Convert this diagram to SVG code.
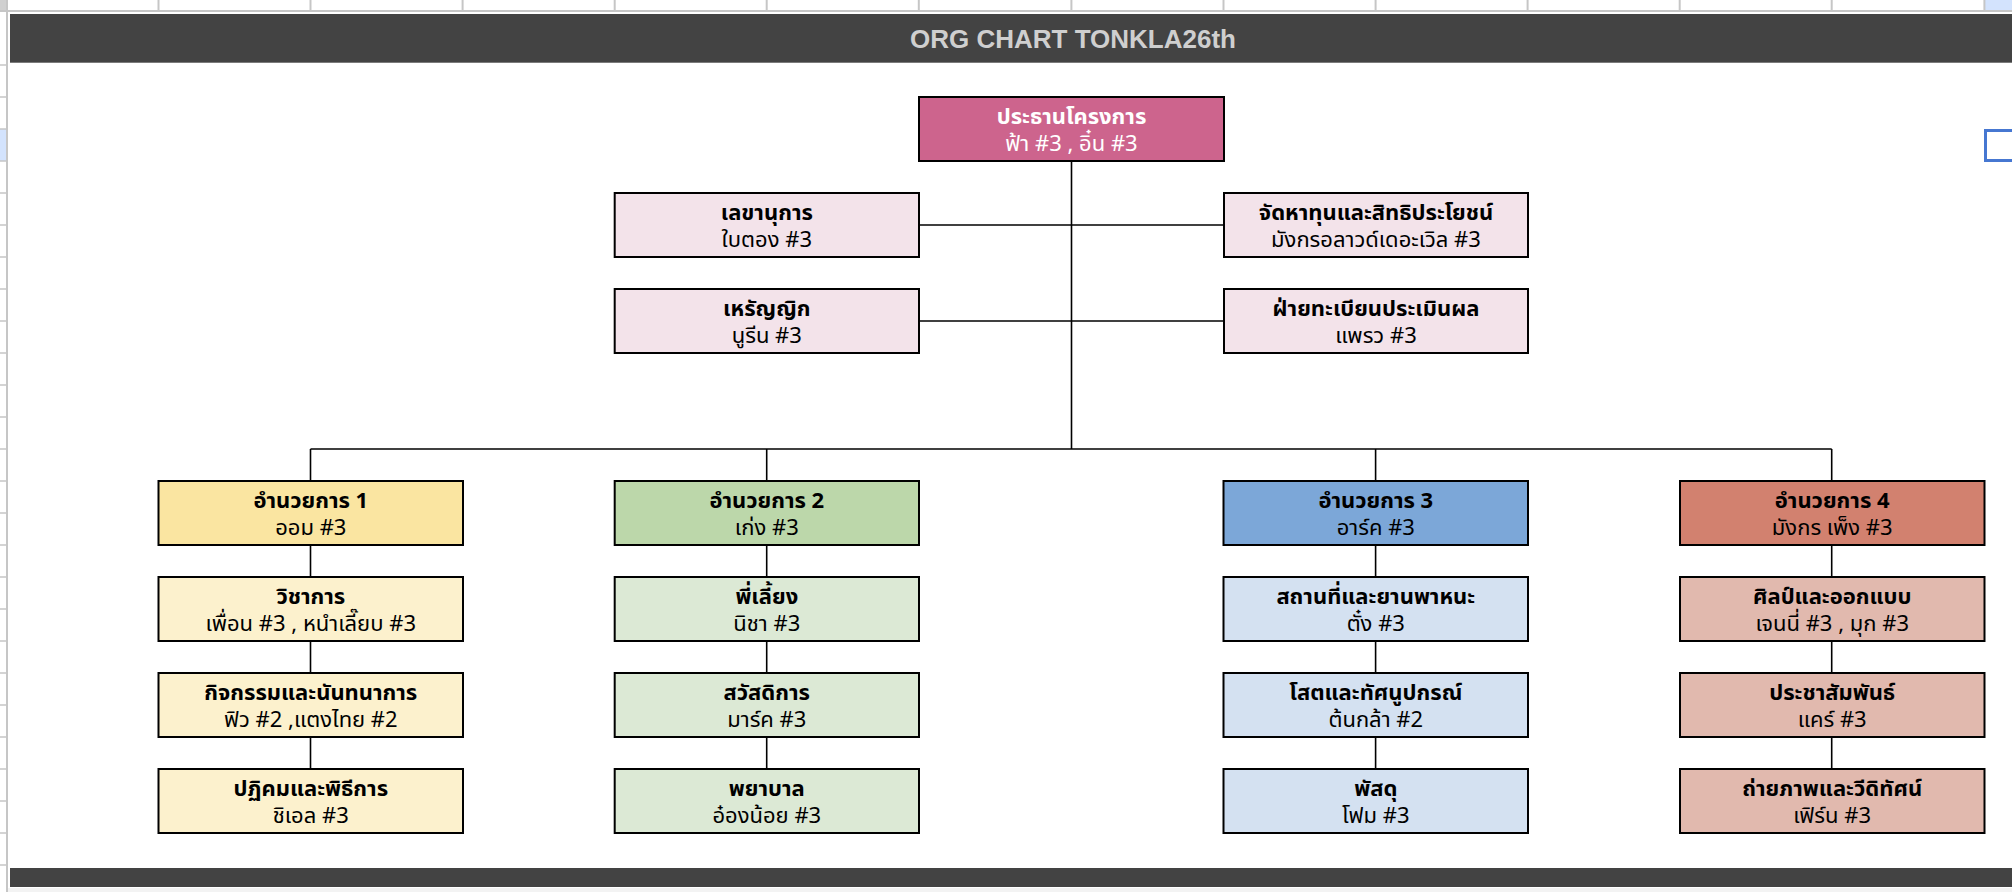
<svg xmlns="http://www.w3.org/2000/svg" width="2012" height="892" viewBox="0 0 2012 892">
<style>
.grid{stroke:#c6c6c6;stroke-width:2;fill:none}
.tick{stroke:#c6c6c6;stroke-width:1.5}
.box{stroke:#000;stroke-width:2}
.con{stroke:#000;stroke-width:1.6;fill:none}
.t{font-family:"Noto Sans Thai","Noto Sans Thai UI","Noto Sans",sans-serif;font-weight:700;font-size:22px;text-anchor:middle;fill:#000}
.s{font-family:"Noto Sans Thai","Noto Sans Thai UI","Noto Sans",sans-serif;font-weight:400;font-size:22px;text-anchor:middle;fill:#000}
.w{fill:#fff}
.chair{fill:#cd648d}
.pk{fill:#f3e3ea}
.y1{fill:#fae5a1}.y2{fill:#fcf1cd}
.g1{fill:#bcd7aa}.g2{fill:#dce9d5}
.b1{fill:#7ca7d8}.b2{fill:#d4e1f1}
.r1{fill:#d2816f}.r2{fill:#e1b9ae}
</style>
<rect x="0" y="0" width="2012" height="892" fill="#fff"/>
<g id="sheet">
<rect x="0" y="0" width="7" height="10" fill="#d0d0d0"/>
<rect x="1985" y="0" width="27" height="10" fill="#d3e3fd"/>
<rect x="0" y="129" width="6" height="32" fill="#d3e3fd"/>
<line class="grid" x1="0" y1="11" x2="2012" y2="11"/>
<line class="grid" x1="7" y1="0" x2="7" y2="892"/>
<g class="grid">
<line x1="158.5" y1="0" x2="158.5" y2="10"/><line x1="310.5" y1="0" x2="310.5" y2="10"/><line x1="462.6" y1="0" x2="462.6" y2="10"/><line x1="614.7" y1="0" x2="614.7" y2="10"/><line x1="766.7" y1="0" x2="766.7" y2="10"/><line x1="918.8" y1="0" x2="918.8" y2="10"/><line x1="1071.4" y1="0" x2="1071.4" y2="10"/><line x1="1223.5" y1="0" x2="1223.5" y2="10"/><line x1="1375.6" y1="0" x2="1375.6" y2="10"/><line x1="1527.6" y1="0" x2="1527.6" y2="10"/><line x1="1679.7" y1="0" x2="1679.7" y2="10"/><line x1="1831.7" y1="0" x2="1831.7" y2="10"/><line x1="1984.4" y1="0" x2="1984.4" y2="10"/>
</g>
<g class="tick">
<line x1="0" y1="65" x2="7" y2="65"/><line x1="0" y1="97" x2="7" y2="97"/><line x1="0" y1="129" x2="7" y2="129"/><line x1="0" y1="161" x2="7" y2="161"/><line x1="0" y1="193" x2="7" y2="193"/><line x1="0" y1="225" x2="7" y2="225"/><line x1="0" y1="257" x2="7" y2="257"/><line x1="0" y1="289" x2="7" y2="289"/><line x1="0" y1="321" x2="7" y2="321"/><line x1="0" y1="353" x2="7" y2="353"/><line x1="0" y1="385" x2="7" y2="385"/><line x1="0" y1="417" x2="7" y2="417"/><line x1="0" y1="449" x2="7" y2="449"/><line x1="0" y1="481" x2="7" y2="481"/><line x1="0" y1="513" x2="7" y2="513"/><line x1="0" y1="545" x2="7" y2="545"/><line x1="0" y1="577" x2="7" y2="577"/><line x1="0" y1="609" x2="7" y2="609"/><line x1="0" y1="641" x2="7" y2="641"/><line x1="0" y1="673" x2="7" y2="673"/><line x1="0" y1="705" x2="7" y2="705"/><line x1="0" y1="737" x2="7" y2="737"/><line x1="0" y1="769" x2="7" y2="769"/><line x1="0" y1="801" x2="7" y2="801"/><line x1="0" y1="833" x2="7" y2="833"/><line x1="0" y1="865" x2="7" y2="865"/>
</g>
<rect x="10" y="14" width="2002" height="48.7" fill="#434343"/>
<text x="1073" y="48" font-family="'Liberation Sans',Arial,sans-serif" font-weight="700" font-size="26" text-anchor="middle" fill="#cfcfcf">ORG CHART TONKLA26th</text>
<rect x="10" y="868" width="2002" height="19" fill="#434343"/>
<rect x="8" y="888" width="2004" height="4" fill="#f3f3f3"/>
<rect x="1985.5" y="130.5" width="40" height="30" fill="none" stroke="#4677d1" stroke-width="3"/>
</g>
<g id="connectors" class="con">
<line x1="1071.5" y1="161" x2="1071.5" y2="449"/>
<line x1="919" y1="225" x2="1224" y2="225"/>
<line x1="919" y1="321" x2="1224" y2="321"/>
<line x1="310.5" y1="449" x2="1831.7" y2="449"/>
<line x1="310.5" y1="449" x2="310.5" y2="481"/>
<line x1="766.7" y1="449" x2="766.7" y2="481"/>
<line x1="1375.6" y1="449" x2="1375.6" y2="481"/>
<line x1="1831.7" y1="449" x2="1831.7" y2="481"/>
<line x1="310.5" y1="545" x2="310.5" y2="577"/><line x1="310.5" y1="641" x2="310.5" y2="673"/><line x1="310.5" y1="737" x2="310.5" y2="769"/>
<line x1="766.7" y1="545" x2="766.7" y2="577"/><line x1="766.7" y1="641" x2="766.7" y2="673"/><line x1="766.7" y1="737" x2="766.7" y2="769"/>
<line x1="1375.6" y1="545" x2="1375.6" y2="577"/><line x1="1375.6" y1="641" x2="1375.6" y2="673"/><line x1="1375.6" y1="737" x2="1375.6" y2="769"/>
<line x1="1831.7" y1="545" x2="1831.7" y2="577"/><line x1="1831.7" y1="641" x2="1831.7" y2="673"/><line x1="1831.7" y1="737" x2="1831.7" y2="769"/>
</g>
<g id="chair"><rect class="box chair" x="919" y="97" width="305" height="64"/><text class="t w" x="1071.5" y="124">ประธานโครงการ</text><text class="s w" x="1071.5" y="151">ฟ้า #3 , อิ๋น #3</text></g>
<g id="secretary"><rect class="box pk" x="614.7" y="193" width="304.3" height="64"/><text class="t" x="766.8" y="220">เลขานุการ</text><text class="s" x="766.8" y="247">ใบตอง #3</text></g>
<g id="treasurer"><rect class="box pk" x="614.7" y="289" width="304.3" height="64"/><text class="t" x="766.8" y="316">เหรัญญิก</text><text class="s" x="766.8" y="343">นูรีน #3</text></g>
<g id="funding"><rect class="box pk" x="1224" y="193" width="304" height="64"/><text class="t" x="1376" y="220">จัดหาทุนและสิทธิประโยชน์</text><text class="s" x="1376" y="247">มังกรอลาวด์เดอะเวิล #3</text></g>
<g id="registry"><rect class="box pk" x="1224" y="289" width="304" height="64"/><text class="t" x="1376" y="316">ฝ่ายทะเบียนประเมินผล</text><text class="s" x="1376" y="343">แพรว #3</text></g>

<g id="div1"><rect class="box y1" x="158.5" y="481" width="304.5" height="64"/><text class="t" x="310.8" y="508">อำนวยการ 1</text><text class="s" x="310.8" y="535">ออม #3</text></g>
<g id="academic"><rect class="box y2" x="158.5" y="577" width="304.5" height="64"/><text class="t" x="310.8" y="604">วิชาการ</text><text class="s" x="310.8" y="631">เพื่อน #3 , หนำเลี๊ยบ #3</text></g>
<g id="activities"><rect class="box y2" x="158.5" y="673" width="304.5" height="64"/><text class="t" x="310.8" y="700">กิจกรรมและนันทนาการ</text><text class="s" x="310.8" y="727">ฟิว #2 ,แตงไทย #2</text></g>
<g id="ceremony"><rect class="box y2" x="158.5" y="769" width="304.5" height="64"/><text class="t" x="310.8" y="796">ปฏิคมและพิธีการ</text><text class="s" x="310.8" y="823">ชิเอล #3</text></g>

<g id="div2"><rect class="box g1" x="614.7" y="481" width="304.3" height="64"/><text class="t" x="766.8" y="508">อำนวยการ 2</text><text class="s" x="766.8" y="535">เก่ง #3</text></g>
<g id="mentor"><rect class="box g2" x="614.7" y="577" width="304.3" height="64"/><text class="t" x="766.8" y="604">พี่เลี้ยง</text><text class="s" x="766.8" y="631">นิชา #3</text></g>
<g id="welfare"><rect class="box g2" x="614.7" y="673" width="304.3" height="64"/><text class="t" x="766.8" y="700">สวัสดิการ</text><text class="s" x="766.8" y="727">มาร์ค #3</text></g>
<g id="nurse"><rect class="box g2" x="614.7" y="769" width="304.3" height="64"/><text class="t" x="766.8" y="796">พยาบาล</text><text class="s" x="766.8" y="823">อ๋องน้อย #3</text></g>

<g id="div3"><rect class="box b1" x="1223.5" y="481" width="304.5" height="64"/><text class="t" x="1375.8" y="508">อำนวยการ 3</text><text class="s" x="1375.8" y="535">อาร์ค #3</text></g>
<g id="venue"><rect class="box b2" x="1223.5" y="577" width="304.5" height="64"/><text class="t" x="1375.8" y="604">สถานที่และยานพาหนะ</text><text class="s" x="1375.8" y="631">ตั๋ง #3</text></g>
<g id="av"><rect class="box b2" x="1223.5" y="673" width="304.5" height="64"/><text class="t" x="1375.8" y="700">โสตและทัศนูปกรณ์</text><text class="s" x="1375.8" y="727">ต้นกล้า #2</text></g>
<g id="supplies"><rect class="box b2" x="1223.5" y="769" width="304.5" height="64"/><text class="t" x="1375.8" y="796">พัสดุ</text><text class="s" x="1375.8" y="823">โฟม #3</text></g>

<g id="div4"><rect class="box r1" x="1680" y="481" width="304.5" height="64"/><text class="t" x="1832.2" y="508">อำนวยการ 4</text><text class="s" x="1832.2" y="535">มังกร เพ็ง #3</text></g>
<g id="art"><rect class="box r2" x="1680" y="577" width="304.5" height="64"/><text class="t" x="1832.2" y="604">ศิลป์และออกแบบ</text><text class="s" x="1832.2" y="631">เจนนี่ #3 , มุก #3</text></g>
<g id="pr"><rect class="box r2" x="1680" y="673" width="304.5" height="64"/><text class="t" x="1832.2" y="700">ประชาสัมพันธ์</text><text class="s" x="1832.2" y="727">แคร์ #3</text></g>
<g id="photo"><rect class="box r2" x="1680" y="769" width="304.5" height="64"/><text class="t" x="1832.2" y="796">ถ่ายภาพและวีดิทัศน์</text><text class="s" x="1832.2" y="823">เฟิร์น #3</text></g>
</svg>
